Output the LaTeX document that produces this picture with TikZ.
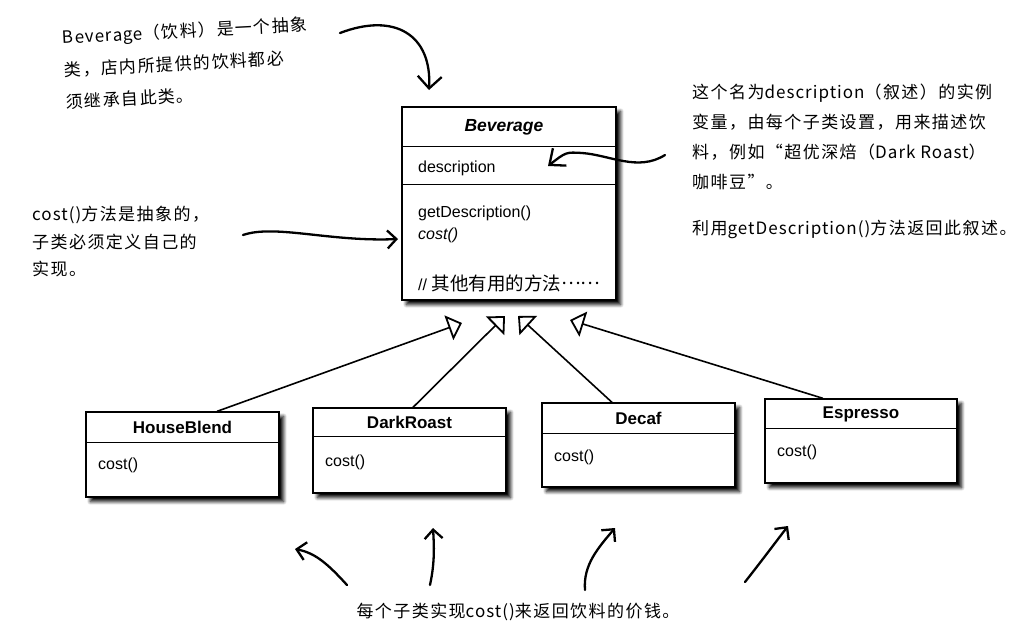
\documentclass[tikz,border=0pt]{standalone}
\usepackage{fontspec}
\setmainfont{Liberation Sans}
\newfontfamily\cjk{Noto Sans CJK SC}
\newfontfamily\hand[LetterSpace=8.5]{Noto Sans CJK SC}
\newfontfamily\handlat[LetterSpace=6]{Noto Sans CJK SC}
\newcommand\lat[1]{{\handlat #1}}
\usetikzlibrary{arrows.meta,shadows.blur}
\begin{document}
\begin{tikzpicture}[x=1pt,y=-1pt,
  cls/.style={draw=black, line width=1.3pt, fill=white, inner sep=0pt,
    blur shadow={shadow xshift=4.5pt, shadow yshift=-4.5pt, shadow blur steps=7, shadow blur radius=3.5pt, shadow opacity=100}},
  divider/.style={line width=1.3pt},
  ttl/.style={font=\fontsize{17}{20}\selectfont\bfseries, anchor=center},
  mem/.style={font=\fontsize{16}{19}\selectfont, anchor=west, inner sep=0pt},
  inh/.style={line width=1.6pt, -{Triangle[open, length=14pt, width=26pt, line width=1.8pt]}},
  handarrow/.style={line width=2.3pt, line cap=round, -{Straight Barb[length=12pt, width=24pt, line width=2.3pt]}},
  smallbarb/.style={-{Straight Barb[length=9pt, width=18pt, line width=2.3pt]}},
  note/.style={font=\hand\fontsize{17}{31}\selectfont, align=left, inner sep=0pt, anchor=north west}
]
\useasboundingbox (0,0) rectangle (1018,637);

% Beverage class
\node[cls, minimum width=214pt, minimum height=193pt] (bev) at (509,203.5) {};
\draw[divider] ([yshift=-40pt]bev.north west) -- ([yshift=-40pt]bev.north east);
\draw[divider] ([yshift=-78pt]bev.north west) -- ([yshift=-78pt]bev.north east);
\node[ttl, font=\fontsize{17.5}{20}\selectfont\bfseries\itshape] (bevt) at (504,127) {Beverage};
\node[mem] (bdesc) at (418,168) {description};
\node[mem] (bget) at (418,213) {getDescription()};
\node[mem] (bcost) at (418,235) {\itshape cost()};
\node[mem] (bother) at (418,283) {// {\cjk\fontsize{18.5}{20}\selectfont 其他有用的方法\raisebox{0.3em}{……}}};

% subclasses
\node[cls, minimum width=193pt, minimum height=85pt] (hb) at (182.5,454.5) {};
\draw[divider] ([yshift=-31pt]hb.north west) -- ([yshift=-31pt]hb.north east);
\node[ttl] (hbt) at (182.5,427) {HouseBlend};
\node[mem] (hbc) at (98,465) {cost()};

\node[cls, minimum width=193pt, minimum height=85pt] (dr) at (409.5,450.5) {};
\draw[divider] ([yshift=-29pt]dr.north west) -- ([yshift=-29pt]dr.north east);
\node[ttl] (drt) at (409.5,422) {DarkRoast};
\node[mem] (drc) at (325,462) {cost()};

\node[cls, minimum width=193pt, minimum height=84pt] (dc) at (638.5,445) {};
\draw[divider] ([yshift=-31pt]dc.north west) -- ([yshift=-31pt]dc.north east);
\node[ttl] (dct) at (638.5,418) {Decaf};
\node[mem] (dcc) at (554,457) {cost()};

\node[cls, minimum width=192pt, minimum height=84pt] (es) at (861,441) {};
\draw[divider] ([yshift=-30pt]es.north west) -- ([yshift=-30pt]es.north east);
\node[ttl] (est) at (861,414) {Espresso};
\node[mem] (esc) at (777,452) {cost()};

% inheritance arrows
\coordinate (t1) at (462,323);
\coordinate (t2) at (505,316);
\coordinate (t3) at (518,316);
\coordinate (t4) at (570,320);
\draw[inh] ([xshift=34.5pt]hb.north) -- (t1);
\draw[inh] ([xshift=3.5pt]dr.north) -- (t2);
\draw[inh] ([xshift=-26.5pt]dc.north) -- (t3);
\draw[inh] ([xshift=-38pt]es.north) -- (t4);

% annotations
\node[note, rotate=3, font=\hand\fontsize{17}{32.5}\selectfont] (n1) at (62,29) {\lat{Beverage}（饮料）是一个抽象\\类，店内所提供的饮料都必\\须继承自此类。};
\node[note, font=\hand\fontsize{17}{30}\selectfont] (n2) at (692,84) {这个名为\lat{description}（叙述）的实例\\变量，由每个子类设置，用来描述饮\\料，例如“超优深焙（\lat{Dark Roast}）\\咖啡豆”。\\[16pt]利用\lat{getDescription()}方法返回此叙述。};
\node[note, font=\hand\fontsize{17}{27.5}\selectfont] (n3) at (32,206) {\lat{cost()}方法是抽象的，\\子类必须定义自己的\\实现。};
\node[note, anchor=center] (n4) at (518,612) {每个子类实现\lat{cost()}来返回饮料的价钱。};

% hand-drawn arrows
\coordinate (a1s) at (340,33);
\coordinate (a1e) at (429,90);
\draw[handarrow] (a1s) .. controls (395,12) and (432,35) .. (a1e);
\coordinate (a2s) at (665,155);
\coordinate (a2m) at (582,153);
\coordinate (a2e) at (548,166);
\draw[handarrow, -{Straight Barb[length=13pt, width=22pt, line width=2.3pt]}] (a2s) .. controls (638,172) and (610,155) .. (a2m) .. controls (566,152) .. (a2e);
\coordinate (a3s) at (243,235);
\coordinate (a3e) at (398,239);
\draw[handarrow, smallbarb] (a3s) .. controls (275,224) and (330,242) .. (a3e);
\coordinate (b1s) at (347,585);
\coordinate (b1e) at (295,549);
\draw[handarrow, smallbarb] (b1s) .. controls (327,563) and (315,553) .. (b1e);
\coordinate (b2s) at (430,585);
\coordinate (b2e) at (433,528);
\draw[handarrow, smallbarb] (b2s) .. controls (435,562) and (434,545) .. (b2e);
\coordinate (b3s) at (585,590);
\coordinate (b3e) at (615,528);
\draw[handarrow, smallbarb] (b3s) .. controls (583,565) and (598,548) .. (b3e);
\coordinate (b4s) at (745,582);
\coordinate (b4e) at (788,526);
\draw[handarrow, smallbarb] (b4s) .. controls (760,563) and (775,543) .. (b4e);
\end{tikzpicture}
\end{document}
